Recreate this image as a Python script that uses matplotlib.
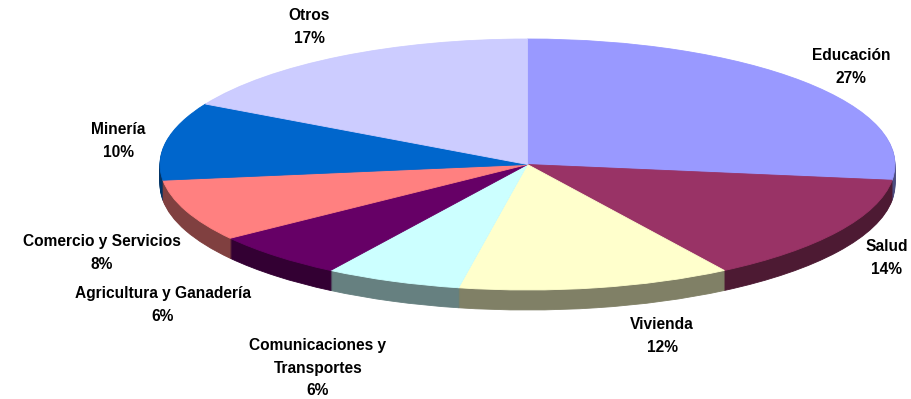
import matplotlib.pyplot as plt
from matplotlib.colors import to_rgb

sectors = ['Educación', 'Salud', 'Vivienda', 'Comunicaciones y\nTransportes',
           'Agricultura y Ganadería', 'Comercio y Servicios', 'Minería', 'Otros']
shares = [27, 14, 12, 6, 6, 8, 10, 17]
top_colors = ['#9999FF', '#993366', '#FFFFCC', '#CCFFFF',
              '#660066', '#FF8080', '#0066CC', '#CCCCFF']

# label block centres in pixels (from top-left)
label_pos = [(851, 67), (887, 258), (662, 336), (318, 368),
             (163, 305), (102, 253), (118, 141), (309, 27)]

W, H = 911, 399
cx, cy = 527.5, 164.5
rx, ry = 367.5, 125.5
depth = 20

side_colors = [tuple(c * 0.5 for c in to_rgb(col)) for col in top_colors]

fig = plt.figure(figsize=(W / 100, H / 100), dpi=100)
ax = fig.add_axes([0, 0, 1, 1])


def draw_layer(colors, yoff):
    wedges, _ = ax.pie(shares, colors=colors, startangle=90, counterclock=False,
                       center=(0, yoff), radius=1)
    for w in wedges:
        w.set_edgecolor(w.get_facecolor())
        w.set_linewidth(0.6)


# side wall: stack darker copies downwards, then the top face
for k in range(depth, 0, -1):
    draw_layer(side_colors, -k / ry)
draw_layer(top_colors, 0)

ax.set_aspect('auto')
ax.set_xlim(-cx / rx, (W - cx) / rx)
ax.set_ylim(-(H - cy) / ry, cy / ry)
ax.axis('off')

for name, val, (px, py) in zip(sectors, shares, label_pos):
    fig.text(px / W, 1 - py / H, f'{name}\n{val}%', ha='center', va='center',
             family='Liberation Sans', fontweight='bold', fontsize=11.2,
             linespacing=1.6, color='black')

fig.savefig('out.png', dpi=100)
